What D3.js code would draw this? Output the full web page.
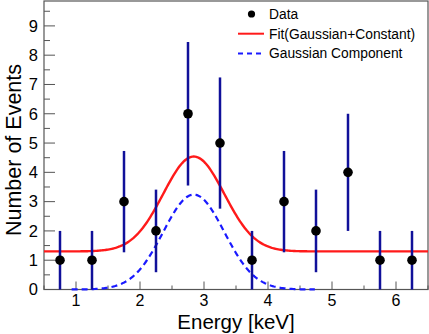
<!DOCTYPE html>
<html>
<head>
<meta charset="utf-8">
<script src="https://cdn.jsdelivr.net/npm/d3@7"></script>
<style>
  body { margin: 0; background: #fff; }
  svg { display: block; font-family: "Liberation Sans", Arial, sans-serif; }
</style>
</head>
<body>
<svg id="chart" width="429" height="334"></svg>
<script>
// bin centres and counts
const binCenters = [0.75, 1.25, 1.75, 2.25, 2.75, 3.25, 3.75, 4.25, 4.75, 5.25, 5.75, 6.25];
const counts     = [1, 1, 3, 2, 6, 5, 1, 3, 2, 4, 1, 1];
const errors     = [1, 1, 1.73, 1.41, 2.45, 2.24, 1, 1.73, 1.41, 2, 1, 1];

// fit parameters
const fitConstant = 1.3;
const fitAmplitude = 3.24;
const fitMean = 2.84;
const fitSigma = 0.477;

const xTicks = [1, 2, 3, 4, 5, 6];
const yTicks = [0, 1, 2, 3, 4, 5, 6, 7, 8, 9];
const legendLabels = ["Data", "Fit(Gaussian+Constant)", "Gaussian Component"];

const svg = d3.select("#chart");
const frame = { left: 44, right: 428, top: 1, bottom: 289.5 };

const x = d3.scaleLinear().domain([0.5, 6.5]).range([frame.left, frame.right]);
const y = d3.scaleLinear().domain([0, 9.85]).range([frame.bottom, frame.top]);

const axisColor = "#555";

// minor ticks every 0.5
const xMinor = d3.range(0.5, 6.51, 0.5).filter(v => !xTicks.includes(v));
const yMinor = d3.range(0.5, 9.8, 0.5).filter(v => !yTicks.includes(v));

// x ticks (inside, pointing up)
const gx = svg.append("g");
gx.selectAll("line.major").data(xTicks).enter().append("line")
    .attr("x1", d => x(d)).attr("x2", d => x(d))
    .attr("y1", frame.bottom).attr("y2", frame.bottom - 8)
    .attr("stroke", axisColor).attr("stroke-width", 1);
gx.selectAll("line.minor").data(xMinor).enter().append("line")
    .attr("x1", d => x(d)).attr("x2", d => x(d))
    .attr("y1", frame.bottom).attr("y2", frame.bottom - 4)
    .attr("stroke", axisColor).attr("stroke-width", 1);
gx.selectAll("text").data(xTicks).enter().append("text")
    .attr("x", d => x(d)).attr("y", 306)
    .attr("text-anchor", "middle")
    .attr("font-size", 16)
    .text(d => d);

// y ticks (inside, pointing right)
const gy = svg.append("g");
gy.selectAll("line.major").data(yTicks).enter().append("line")
    .attr("x1", frame.left).attr("x2", frame.left + 11)
    .attr("y1", d => y(d)).attr("y2", d => y(d))
    .attr("stroke", axisColor).attr("stroke-width", 1);
gy.selectAll("line.minor").data(yMinor).enter().append("line")
    .attr("x1", frame.left).attr("x2", frame.left + 6)
    .attr("y1", d => y(d)).attr("y2", d => y(d))
    .attr("stroke", axisColor).attr("stroke-width", 1);
gy.selectAll("text").data(yTicks).enter().append("text")
    .attr("x", 38).attr("y", d => y(d) + 5.8)
    .attr("text-anchor", "end")
    .attr("font-size", 16.5)
    .text(d => d);

// frame
svg.append("rect")
    .attr("x", frame.left).attr("y", frame.top)
    .attr("width", frame.right - frame.left).attr("height", frame.bottom - frame.top)
    .attr("fill", "none").attr("stroke", axisColor).attr("stroke-width", 1.2);

// axis titles
svg.append("text")
    .attr("x", 236).attr("y", 329)
    .attr("text-anchor", "middle")
    .attr("font-size", 20.5)
    .text("Energy [keV]");
svg.append("text")
    .attr("transform", "translate(21,150) rotate(-90)")
    .attr("text-anchor", "middle")
    .attr("font-size", 21.5)
    .text("Number of Events");

// curves
const gauss = v => fitAmplitude * Math.exp(-0.5 * Math.pow((v - fitMean) / fitSigma, 2));
const fitX = d3.range(0.5, 6.501, 0.02);
const gaussX = d3.range(fitMean - 4 * fitSigma, fitMean + 4 * fitSigma + 0.001, 0.02);

const line = d3.line().x(d => x(d[0])).y(d => y(d[1]));

svg.append("path")
    .datum(gaussX.map(v => [v, gauss(v)]))
    .attr("d", line)
    .attr("fill", "none")
    .attr("stroke", "#1a1aff")
    .attr("stroke-width", 2.2)
    .attr("stroke-dasharray", "6,4");

svg.append("path")
    .datum(fitX.map(v => [v, fitConstant + gauss(v)]))
    .attr("d", line)
    .attr("fill", "none")
    .attr("stroke", "#ff1a1a")
    .attr("stroke-width", 2.4);

// data points with error bars
const pts = binCenters.map((c, i) => ({ x: c, y: counts[i], e: errors[i] }));
svg.selectAll("line.err").data(pts).enter().append("line")
    .attr("x1", d => x(d.x)).attr("x2", d => x(d.x))
    .attr("y1", d => y(Math.max(0, d.y - d.e))).attr("y2", d => y(d.y + d.e))
    .attr("stroke", "#10109a").attr("stroke-width", 2.5);
svg.selectAll("circle.pt").data(pts).enter().append("circle")
    .attr("cx", d => x(d.x)).attr("cy", d => y(d.y))
    .attr("r", 4.8).attr("fill", "#000");

// legend
const lg = svg.append("g").attr("font-size", 13.8);
legendLabels.forEach((lab, i) => {
    const ly = 14 + i * 19.7;
    if (i === 0) {
        lg.append("circle").attr("cx", 251.5).attr("cy", ly).attr("r", 3.6).attr("fill", "#000");
    } else {
        lg.append("line")
            .attr("x1", 238).attr("x2", 264).attr("y1", ly).attr("y2", ly)
            .attr("stroke", i === 1 ? "#ff1a1a" : "#1a1aff")
            .attr("stroke-width", 2)
            .attr("stroke-dasharray", i === 2 ? "5,4" : null);
    }
    lg.append("text").attr("x", 269).attr("y", ly + 5).text(lab);
});
</script>
</body>
</html>
